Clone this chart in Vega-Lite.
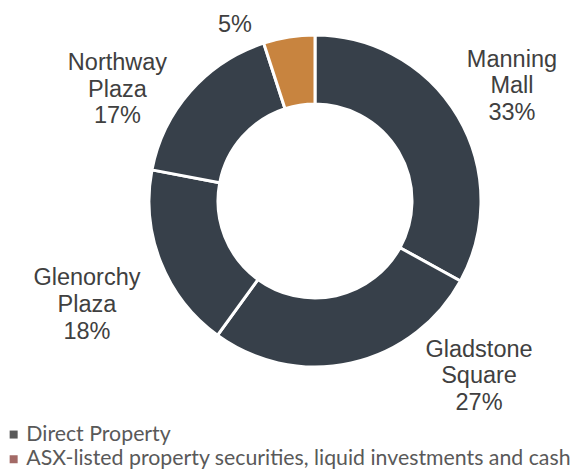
{
  "$schema": "https://vega.github.io/schema/vega-lite/v6.json",
  "width": 536,
  "height": 402,
  "autosize": {"type": "none"},
  "padding": {"left": 47, "top": 0, "right": 0, "bottom": 68},
  "background": "white",
  "data": {
    "values": [
      {"idx": 1, "name": "Manning Mall", "label": "Manning\nMall\n33%", "value": 33, "group": "Direct Property", "series": "Direct Property"},
      {"idx": 2, "name": "Gladstone Square", "label": "Gladstone\nSquare\n27%", "value": 27, "group": "Direct Property", "series": "Direct Property"},
      {"idx": 3, "name": "Glenorchy Plaza", "label": "Glenorchy\nPlaza\n18%", "value": 18, "group": "Direct Property", "series": "Direct Property"},
      {"idx": 4, "name": "Northway Plaza", "label": "Northway\nPlaza\n17%", "value": 17, "group": "Direct Property", "series": "Direct Property"},
      {"idx": 5, "name": "ASX-listed property securities, liquid investments and cash", "label": "5%", "value": 5, "group": "ASX-listed property securities, liquid investments and cash", "series": "ASX-listed property securities, liquid investments and cash"}
    ]
  },
  "encoding": {
    "theta": {"field": "value", "type": "quantitative", "stack": true},
    "order": {"field": "idx", "type": "quantitative", "sort": "ascending"}
  },
  "layer": [
    {
      "mark": {"type": "arc", "outerRadius": 166, "innerRadius": 97, "stroke": "white", "strokeWidth": 3},
      "encoding": {
        "fill": {
          "field": "group", "type": "nominal",
          "scale": {"domain": ["ASX-listed property securities, liquid investments and cash", "Direct Property"], "range": ["#C8843F", "#37404A"]},
          "legend": null
        }
      }
    },
    {
      "mark": {"type": "arc", "outerRadius": 0, "innerRadius": 0},
      "encoding": {
        "color": {
          "field": "series", "type": "nominal",
          "scale": {"domain": ["Direct Property", "ASX-listed property securities, liquid investments and cash"], "range": ["#595959", "#A36A66"]},
          "legend": {
            "title": null,
            "orient": "none",
            "legendX": -44,
            "legendY": 423.9,
            "direction": "vertical",
            "symbolType": "square",
            "symbolSize": 64,
            "symbolStrokeWidth": 0,
            "labelFont": "Lato",
            "labelFontSize": 21.3,
            "labelColor": "#595959",
            "labelOffset": 2,
            "labelLimit": 0,
            "rowPadding": 2.7,
            "padding": 0
          }
        }
      }
    },
    {
      "mark": {"type": "text", "radius": 200, "dx": 24.8, "dy": -39.4, "font": "Liberation Sans", "fontSize": 23.5, "lineHeight": 26.7, "lineBreak": "\n", "fill": "#404040", "align": "center", "baseline": "middle"},
      "encoding": {"text": {"condition": {"test": "datum.idx === 1", "field": "label"}, "value": ""}}
    },
    {
      "mark": {"type": "text", "radius": 200, "dx": 120.4, "dy": -46.4, "font": "Liberation Sans", "fontSize": 23.5, "lineHeight": 26.7, "lineBreak": "\n", "fill": "#404040", "align": "center", "baseline": "middle"},
      "encoding": {"text": {"condition": {"test": "datum.idx === 2", "field": "label"}, "value": ""}}
    },
    {
      "mark": {"type": "text", "radius": 200, "dx": -42.1, "dy": 3.7, "font": "Liberation Sans", "fontSize": 23.5, "lineHeight": 26.7, "lineBreak": "\n", "fill": "#404040", "align": "center", "baseline": "middle"},
      "encoding": {"text": {"condition": {"test": "datum.idx === 3", "field": "label"}, "value": ""}}
    },
    {
      "mark": {"type": "text", "radius": 200, "dx": -47.5, "dy": -5.7, "font": "Liberation Sans", "fontSize": 23.5, "lineHeight": 26.7, "lineBreak": "\n", "fill": "#404040", "align": "center", "baseline": "middle"},
      "encoding": {"text": {"condition": {"test": "datum.idx === 4", "field": "label"}, "value": ""}}
    },
    {
      "mark": {"type": "text", "radius": 200, "dx": -48.7, "dy": 21.8, "font": "Liberation Sans", "fontSize": 23.5, "lineHeight": 26.7, "lineBreak": "\n", "fill": "#404040", "align": "center", "baseline": "middle"},
      "encoding": {"text": {"condition": {"test": "datum.idx === 5", "field": "label"}, "value": ""}}
    }
  ],
  "config": {"view": {"stroke": null}}
}
